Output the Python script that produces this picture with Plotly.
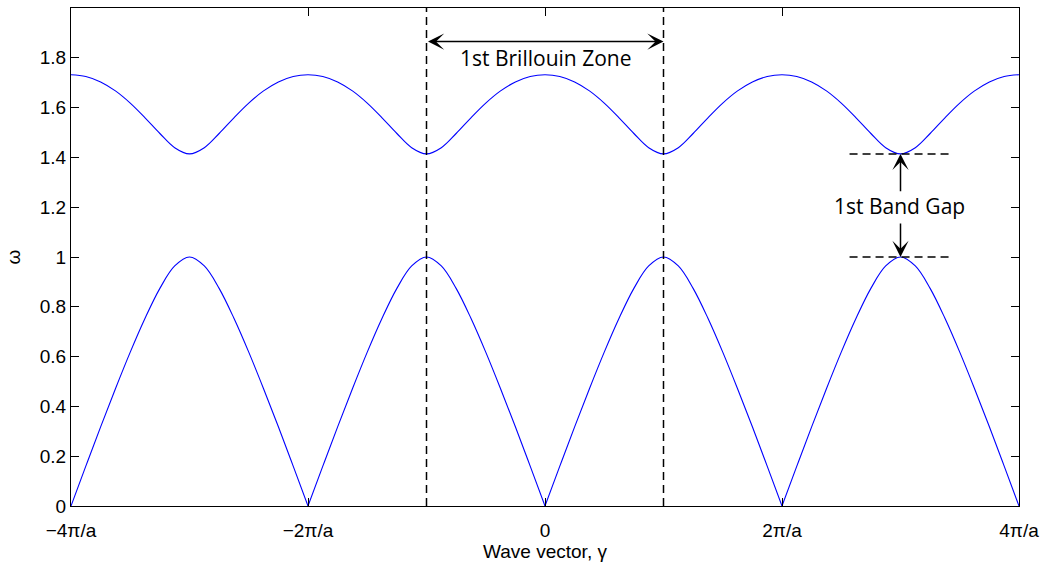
import plotly.graph_objects as go

# wave vector in units of pi/a
k_frac = [i / 8 for i in range(-32, 33)]

omega_acoustic = [
    0, 0.160, 0.318, 0.471, 0.618, 0.754, 0.874, 0.964, 1.0, 0.964, 0.874, 0.754, 0.618, 0.471, 0.318, 0.160,
    0, 0.160, 0.318, 0.471, 0.618, 0.754, 0.874, 0.964, 1.0, 0.964, 0.874, 0.754, 0.618, 0.471, 0.318, 0.160,
    0, 0.160, 0.318, 0.471, 0.618, 0.754, 0.874, 0.964, 1.0, 0.964, 0.874, 0.754, 0.618, 0.471, 0.318, 0.160,
    0, 0.160, 0.318, 0.471, 0.618, 0.754, 0.874, 0.964, 1.0, 0.964, 0.874, 0.754, 0.618, 0.471, 0.318, 0.160,
    0,
]
omega_optical = [
    1.732, 1.725, 1.703, 1.667, 1.618, 1.559, 1.496, 1.439, 1.414, 1.439, 1.496, 1.559, 1.618, 1.667, 1.703, 1.725,
    1.732, 1.725, 1.703, 1.667, 1.618, 1.559, 1.496, 1.439, 1.414, 1.439, 1.496, 1.559, 1.618, 1.667, 1.703, 1.725,
    1.732, 1.725, 1.703, 1.667, 1.618, 1.559, 1.496, 1.439, 1.414, 1.439, 1.496, 1.559, 1.618, 1.667, 1.703, 1.725,
    1.732, 1.725, 1.703, 1.667, 1.618, 1.559, 1.496, 1.439, 1.414, 1.439, 1.496, 1.559, 1.618, 1.667, 1.703, 1.725,
    1.732,
]

x_tickvals = [-4, -2, 0, 2, 4]
x_ticktext = ["\u22124\u03c0/a", "\u22122\u03c0/a", "0", "2\u03c0/a", "4\u03c0/a"]
y_tickvals = [0, 0.2, 0.4, 0.6, 0.8, 1.0, 1.2, 1.4, 1.6, 1.8]
y_ticktext = ["0", "0.2", "0.4", "0.6", "0.8", "1", "1.2", "1.4", "1.6", "1.8"]

zone_edges = [-1, 1]
gap_bottom = 1.0
gap_top = 1.414
gap_k = 3

# split acoustic branch at its cusps so each arch is smoothed separately
ax_x, ax_y = [], []
for i, (k, w) in enumerate(zip(k_frac, omega_acoustic)):
    ax_x.append(k)
    ax_y.append(w)
    if w == 0 and 0 < i < len(k_frac) - 1:
        ax_x += [None, k]
        ax_y += [None, w]

fig = go.Figure()
fig.add_trace(go.Scatter(x=ax_x, y=ax_y, mode="lines", line=dict(color="#0000ff", width=1.1, shape="spline"),
                         connectgaps=False, hoverinfo="skip"))
fig.add_trace(go.Scatter(x=k_frac, y=omega_optical, mode="lines", line=dict(color="#0000ff", width=1.1, shape="spline"),
                         hoverinfo="skip"))

for ze in zone_edges:
    fig.add_shape(type="line", x0=ze, x1=ze, y0=0, y1=2, xref="x", yref="y",
                  line=dict(color="black", width=1.5, dash="8px,5px"), layer="above")

for yy in [gap_top, gap_bottom]:
    fig.add_shape(type="line", x0=2.57, x1=3.44, y0=yy, y1=yy, xref="x", yref="y",
                  line=dict(color="black", width=1.5, dash="8px,5px"))

ann_font = dict(family="Open Sans, Noto Sans, sans-serif", size=21, color="black")
head = 1.8

# Brillouin zone double arrow
fig.add_annotation(x=zone_edges[1], y=1.865, ax=zone_edges[0], ay=1.865, xref="x", yref="y", axref="x", ayref="y",
                   text="", showarrow=True, arrowhead=3, startarrowhead=3, arrowside="end+start",
                   arrowsize=head, startarrowsize=head, arrowwidth=1.5, arrowcolor="black", standoff=0, startstandoff=0)
fig.add_annotation(x=0, y=1.8, xref="x", yref="y", text="1st Brillouin Zone", showarrow=False, font=ann_font)

# band gap arrows
fig.add_annotation(x=gap_k, y=gap_top, ax=gap_k, ay=1.258, xref="x", yref="y", axref="x", ayref="y",
                   text="", showarrow=True, arrowhead=3, arrowsize=head, arrowwidth=1.5, arrowcolor="black", standoff=0)
fig.add_annotation(x=gap_k, y=gap_bottom, ax=gap_k, ay=1.141, xref="x", yref="y", axref="x", ayref="y",
                   text="", showarrow=True, arrowhead=3, arrowsize=head, arrowwidth=1.5, arrowcolor="black", standoff=0)
fig.add_annotation(x=2.99, y=1.205, xref="x", yref="y", text="1st Band Gap", showarrow=False, font=ann_font)

axis_font = dict(family="Liberation Sans, Arial, sans-serif", size=19, color="black")

fig.update_layout(
    width=1043, height=566,
    margin=dict(l=71, r=24, t=7.5, b=59.5, autoexpand=False),
    paper_bgcolor="white", plot_bgcolor="white",
    showlegend=False,
    font=axis_font,
    xaxis=dict(range=[-4, 4], tickvals=x_tickvals, ticktext=x_ticktext, ticks="inside", ticklen=8,
               tickcolor="black", showline=True, linecolor="black", linewidth=1.2, mirror="ticks",
               showgrid=False, zeroline=False, tickfont=axis_font, ticklabelstandoff=7, automargin=False,
               title=dict(text="Wave vector, \u03b3", font=axis_font, standoff=3)),
    yaxis=dict(range=[0, 2], tickvals=y_tickvals, ticktext=y_ticktext, ticks="inside", ticklen=8,
               tickcolor="black", showline=True, linecolor="black", linewidth=1.2, mirror="ticks",
               showgrid=False, zeroline=False, tickfont=axis_font, automargin=False,
               title=dict(text="\u03c9", font=axis_font, standoff=14)),
)

fig.write_html("out.html")
